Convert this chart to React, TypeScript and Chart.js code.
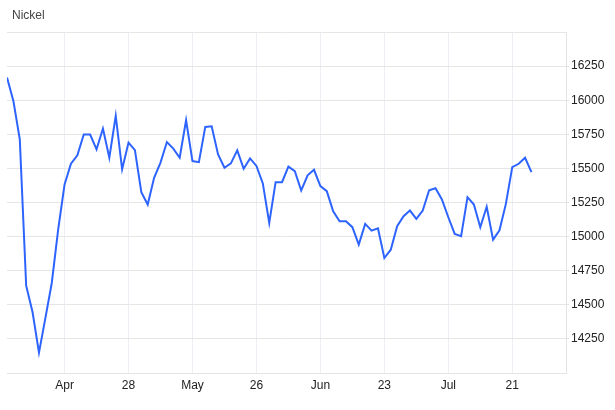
import React, { useEffect, useRef } from "react";
import { Chart, registerables } from "chart.js";

Chart.register(...registerables);

const title = "Nickel";

const prices: number[] = [
  16167, 15995, 15713, 14640, 14445, 14149, 14402, 14660, 15051, 15382,
  15534, 15596, 15748, 15748, 15640, 15792, 15578, 15885, 15493, 15689,
  15634, 15326, 15235, 15431, 15542, 15693, 15645, 15578, 15853, 15554,
  15546, 15804, 15809, 15603, 15505, 15537, 15632, 15498, 15573, 15518,
  15390, 15101, 15399, 15399, 15513, 15480, 15338, 15449, 15490, 15370,
  15333, 15186, 15113, 15113, 15069, 14941, 15093, 15044, 15061, 14843,
  14904, 15076, 15149, 15191, 15130, 15191, 15340, 15355, 15272, 15142,
  15020, 15003, 15289, 15235, 15068, 15219, 14978, 15046, 15240, 15509,
  15534, 15578, 15472,
];

const xTickIndices: number[] = [9, 19, 29, 39, 49, 59, 69, 79];
const xTickLabels: string[] = ["Apr", "28", "May", "26", "Jun", "23", "Jul", "21"];

const yMin = 14000;
const yMax = 16500;
const yStep = 250;

const FONT = "'Liberation Sans', Arial, Helvetica, sans-serif";

export default function App() {
  const ref = useRef<HTMLCanvasElement | null>(null);

  useEffect(() => {
    if (!ref.current) return;
    const titlePlugin = {
      id: "titleText",
      afterDraw(chart: any) {
        const ctx = chart.ctx;
        ctx.save();
        ctx.font = `12px ${FONT}`;
        ctx.fillStyle = "#444444";
        ctx.textAlign = "left";
        ctx.textBaseline = "middle";
        ctx.fillText(title, 12, 16);
        ctx.restore();
      },
    };
    const chart = new Chart(ref.current, {
      type: "line",
      data: {
        datasets: [
          {
            data: prices.map((v, i) => ({ x: i, y: v })),
            borderColor: "#2e64fe",
            borderWidth: 2,
            pointRadius: 0,
            tension: 0,
            fill: false,
          },
        ],
      },
      options: {
        animation: false,
        responsive: true,
        maintainAspectRatio: false,
        layout: { padding: { top: 32, left: 7, right: 0, bottom: 0 } },
        plugins: {
          legend: { display: false },
          tooltip: { enabled: false },
          title: { display: false },
        },
        scales: {
          x: {
            type: "linear",
            min: 0,
            max: 87.4,
            afterBuildTicks: (scale: any) => {
              scale.ticks = xTickIndices.map((v) => ({ value: v }));
            },
            afterFit: (scale: any) => {
              scale.height = 37;
            },
            ticks: {
              autoSkip: false,
              maxRotation: 0,
              padding: 5,
              color: "#222222",
              font: { family: FONT, size: 12 },
              callback: (value: any) => {
                const idx = xTickIndices.indexOf(Number(value));
                return idx >= 0 ? xTickLabels[idx] : "";
              },
            },
            grid: {
              color: "#eceff4",
              drawTicks: false,
              lineWidth: 1,
            },
            border: { display: true, color: "#e4e4e4" },
          },
          y: {
            position: "right",
            min: yMin,
            max: yMax,
            afterFit: (scale: any) => {
              scale.width = 49;
            },
            ticks: {
              stepSize: yStep,
              padding: 2,
              color: "#222222",
              font: { family: FONT, size: 12 },
              callback: (value: any) => {
                const v = Number(value);
                if (v === yMin || v === yMax) return "";
                return String(v);
              },
            },
            grid: {
              color: "#e6e6e6",
              tickLength: 3,
              tickColor: (ctx: any) => {
                const v = ctx.tick ? ctx.tick.value : null;
                return v === yMin || v === yMax ? "rgba(0,0,0,0)" : "#e0e0e0";
              },
            },
            border: { display: true, color: "#e4e4e4" },
          },
        },
      },
      plugins: [titlePlugin],
    } as any);
    return () => chart.destroy();
  }, []);

  return (
    <div style={{ position: "fixed", left: 0, top: 0, width: 615, height: 410, background: "#fff" }}>
      <canvas ref={ref} />
    </div>
  );
}
